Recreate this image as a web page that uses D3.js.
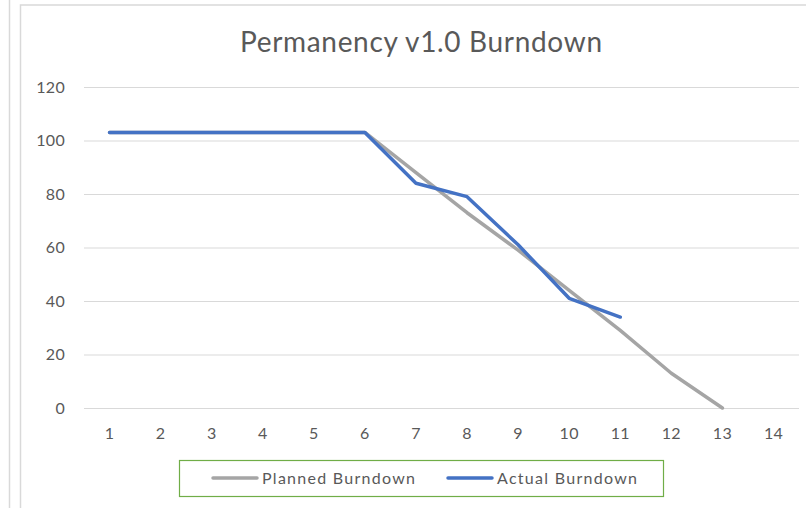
<!DOCTYPE html>
<html>
<head>
<meta charset="utf-8">
<script src="https://cdn.jsdelivr.net/npm/d3@7"></script>
<style>
  body { margin: 0; background: #fff; }
  svg { display: block; font-family: Lato, "Open Sans", sans-serif; }
</style>
</head>
<body>
<svg id="chart" width="806" height="508"></svg>
<script>
const days = ["1","2","3","4","5","6","7","8","9","10","11","12","13","14"];
const planned = [103, 103, 103, 103, 103, 103, 88, 73, 59, 44, 29, 13, 0];
const actual = [103, 103, 103, 103, 103, 103, 84, 79, 61, 41, 34];
const yTicks = [0, 20, 40, 60, 80, 100, 120];
const seriesNames = ["Planned Burndown", "Actual Burndown"];
const seriesColors = ["#a5a5a5", "#4472c4"];

const svg = d3.select("#chart");

// outer frame bits
svg.append("line").attr("x1", 9.5).attr("x2", 9.5).attr("y1", 0).attr("y2", 508)
  .attr("stroke", "#d9d9d9").attr("stroke-width", 1.5);
svg.append("rect").attr("x", 20.5).attr("y", 5).attr("width", 800).attr("height", 520)
  .attr("fill", "#fff").attr("stroke", "#d9d9d9").attr("stroke-width", 1.5);

const x = d3.scaleBand().domain(days).range([84, 799]);
const y = d3.scaleLinear().domain([0, 120]).range([408, 87]);

// gridlines
svg.append("g")
  .attr("transform", "translate(84,0)")
  .call(d3.axisLeft(y).tickValues(yTicks).tickSize(-715).tickFormat(""))
  .call(g => g.select(".domain").remove())
  .call(g => g.selectAll("line").attr("stroke", "#d9d9d9").attr("stroke-width", 1));

// y labels
svg.append("g")
  .selectAll("text").data(yTicks).join("text")
  .attr("x", 65).attr("y", d => y(d)).attr("dy", "0.36em")
  .attr("text-anchor", "end").attr("fill", "#595959").attr("font-size", 16)
  .attr("letter-spacing", 0.3)
  .text(d => d);

// x labels
svg.append("g")
  .selectAll("text").data(days).join("text")
  .attr("x", d => x(d) + x.bandwidth() / 2).attr("y", 433).attr("dy", "0.36em")
  .attr("text-anchor", "middle").attr("fill", "#595959").attr("font-size", 16)
  .attr("letter-spacing", 0.3)
  .text(d => d);

// title
svg.append("text")
  .attr("x", 240).attr("y", 52)
  .attr("textLength", 362).attr("lengthAdjust", "spacing")
  .attr("fill", "#595959").attr("font-size", 28)
  .text("Permanency v1.0 Burndown");

const line = d3.line()
  .x((d, i) => x(days[i]) + x.bandwidth() / 2)
  .y(d => y(d));

[planned, actual].forEach((vals, k) => {
  svg.append("path").datum(vals)
    .attr("fill", "none")
    .attr("stroke", seriesColors[k])
    .attr("stroke-width", 3.5)
    .attr("stroke-linejoin", "round")
    .attr("stroke-linecap", "round")
    .attr("d", line);
});

// legend
const legend = svg.append("g");
legend.append("rect").attr("x", 179.5).attr("y", 460.5).attr("width", 484).attr("height", 36)
  .attr("fill", "#fff").attr("stroke", "#70ad47").attr("stroke-width", 1.2);
const legX = [213, 448];
const legW = [153, 140];
seriesNames.forEach((name, k) => {
  legend.append("line")
    .attr("x1", legX[k]).attr("x2", legX[k] + 44).attr("y1", 478).attr("y2", 478)
    .attr("stroke", seriesColors[k]).attr("stroke-width", 3.5).attr("stroke-linecap", "round");
  legend.append("text")
    .attr("x", legX[k] + 49).attr("y", 478).attr("dy", "0.36em")
    .attr("textLength", legW[k]).attr("lengthAdjust", "spacing")
    .attr("fill", "#595959").attr("font-size", 16)
    .text(name);
});
</script>
</body>
</html>
